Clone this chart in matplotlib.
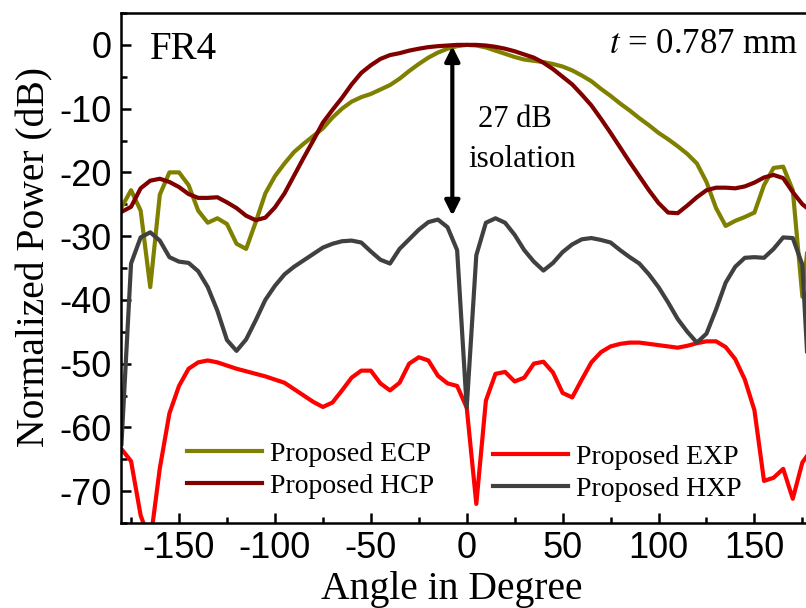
import numpy as np
import matplotlib
matplotlib.use("Agg")
import matplotlib.pyplot as plt
from matplotlib.ticker import MultipleLocator

plt.rcParams['axes.unicode_minus'] = False
plt.rcParams['mathtext.fontset'] = 'stix'

angles = list(range(-180, 181, 5))

ecp = [-25.5, -22.8, -26.0, -38.0, -23.5, -20.0, -20.0, -22.0, -26.0, -27.9,
       -27.2, -28.1, -31.2, -32.0, -27.8, -23.3, -20.6, -18.6, -16.8, -15.5,
       -14.3, -13.1, -11.4, -10.0, -8.9, -8.2, -7.7, -7.0, -6.3, -5.3,
       -4.1, -3.0, -2.0, -1.2, -0.6, -0.2, 0.0, -0.1, -0.4, -0.9,
       -1.4, -1.9, -2.3, -2.5, -2.7, -3.0, -3.4, -4.0, -4.8, -5.7,
       -6.9, -8.0, -9.2, -10.3, -11.5, -12.6, -13.8, -14.8, -15.9, -17.1,
       -18.6, -21.5, -25.6, -28.4, -27.6, -27.0, -26.3, -22.0, -19.3, -19.1,
       -22.8, -39.5, -25.5]

hcp = [-26.2, -25.4, -22.5, -21.3, -21.0, -21.5, -22.3, -23.4, -24.0, -24.0,
       -23.9, -24.7, -25.6, -26.8, -27.5, -27.1, -25.5, -23.3, -20.5, -17.7,
       -15.0, -12.2, -10.2, -8.3, -6.2, -4.4, -3.2, -2.2, -1.6, -1.3,
       -0.9, -0.6, -0.35, -0.2, -0.1, 0.0, 0.0, 0.0, -0.1, -0.3,
       -0.6, -1.0, -1.5, -2.0, -2.8, -3.8, -5.0, -6.2, -7.8, -9.5,
       -11.6, -13.8, -16.1, -18.4, -20.6, -22.8, -24.8, -26.3, -26.4, -25.2,
       -23.9, -22.8, -22.4, -22.4, -22.5, -22.2, -21.6, -20.8, -20.4, -20.9,
       -23.1, -25.0, -26.2]

exp_ = [-63.4, -65.3, -73.8, -78.0, -66.4, -57.8, -53.5, -50.8, -49.8, -49.5,
        -49.8, -50.3, -50.8, -51.2, -51.6, -52.0, -52.5, -53.0, -54.0, -55.0,
        -56.0, -56.8, -56.1, -54.2, -52.2, -51.1, -51.1, -53.1, -54.2, -53.0,
        -50.0, -49.0, -49.5, -51.9, -53.1, -53.5, -56.9, -72.0, -55.8, -51.6,
        -51.3, -52.8, -52.2, -50.0, -49.7, -51.4, -54.6, -55.3, -52.5, -49.8,
        -48.2, -47.3, -46.9, -46.7, -46.7, -46.9, -47.1, -47.3, -47.5, -47.2,
        -46.8, -46.5, -46.5, -47.4, -49.3, -52.5, -57.3, -68.4, -67.9, -66.5,
        -71.2, -65.5, -63.4]

hxp = [-62.6, -34.3, -30.2, -29.4, -30.7, -33.3, -34.0, -34.2, -35.5, -38.0,
       -41.7, -46.3, -48.0, -46.2, -43.2, -40.0, -37.8, -36.0, -34.8, -33.8,
       -32.8, -31.8, -31.2, -30.8, -30.7, -31.0, -32.4, -33.7, -34.3, -32.0,
       -30.5, -29.0, -27.8, -27.4, -28.6, -32.2, -56.9, -33.0, -27.9, -27.2,
       -27.9, -29.8, -32.2, -34.0, -35.4, -34.2, -32.5, -31.3, -30.5, -30.3,
       -30.6, -31.0, -32.2, -33.3, -34.3, -36.0, -38.0, -40.4, -43.0, -45.0,
       -46.7, -45.3, -41.5, -37.3, -34.8, -33.4, -33.3, -33.4, -32.0, -30.2,
       -30.3, -34.5, -62.6]

labels = ["Proposed ECP", "Proposed HCP", "Proposed EXP", "Proposed HXP"]
colors = ["#808000", "#800000", "#ff0000", "#404040"]

serif = "Liberation Serif"
sans = "Liberation Sans"

fig = plt.figure(figsize=(8.06, 6.08), dpi=100)
ax = fig.add_axes([0.1507, 0.1398, 0.8567, 0.8388])

lw = 3.0
l1, = ax.plot(angles, ecp, color=colors[0], lw=lw, label=labels[0])
l2, = ax.plot(angles, hcp, color=colors[1], lw=lw, label=labels[1])
l3, = ax.plot(angles, exp_, color=colors[2], lw=lw, label=labels[2])
l4, = ax.plot(angles, hxp, color=colors[3], lw=lw, label=labels[3])

ax.set_xlim(-180, 180)
ax.set_ylim(-75, 5)
ax.xaxis.set_major_locator(MultipleLocator(50))
ax.xaxis.set_minor_locator(MultipleLocator(25))
ax.yaxis.set_major_locator(MultipleLocator(10))
ax.yaxis.set_minor_locator(MultipleLocator(5))
ax.set_yticks([0, -10, -20, -30, -40, -50, -60, -70])
ax.tick_params(which='major', direction='in', length=7, width=1.8,
               labelsize=26, pad=7)
ax.tick_params(axis='x', which='major', pad=6)
ax.tick_params(which='minor', direction='in', length=4, width=1.8)
for lab in ax.get_xticklabels() + ax.get_yticklabels():
    lab.set_fontfamily(sans)
for s in ax.spines.values():
    s.set_linewidth(1.8)

ax.set_xlabel("Angle in Degree", fontfamily=serif, fontsize=28.5)
ax.set_ylabel("Normalized Power (dB)", fontfamily=serif, fontsize=28.5)
ax.xaxis.set_label_coords(0.4786, -0.094)
ax.yaxis.set_label_coords(-0.099, 0.5216)

ax.text(-165.3, -2.2, "FR4", fontfamily=serif, fontsize=28, va='baseline', ha='left')
ax.text(172.6, -1.3, r"$t$ = 0.787 mm", fontfamily=serif, fontsize=25,
        va='baseline', ha='right')
ax.text(25, -12.9, "27 dB", fontfamily=serif, fontsize=22, va='baseline', ha='center')
ax.text(29, -19.2, "isolation", fontfamily=serif, fontsize=22.5, va='baseline', ha='center')

ax.annotate("", xy=(-7.5, -26.8), xytext=(-7.5, -0.2),
            arrowprops=dict(arrowstyle='<|-|>', color='black', lw=3,
                            mutation_scale=22, shrinkA=0, shrinkB=0))

leg1 = ax.legend(handles=[l1, l2], loc='center left',
                 bbox_to_anchor=(0.232, 0.227), bbox_transform=fig.transFigure,
                 frameon=False, prop={'family': serif, 'size': 20},
                 handlelength=2.7, handletextpad=0.3, labelspacing=0.25,
                 borderpad=0, borderaxespad=0)
ax.add_artist(leg1)
ax.legend(handles=[l3, l4], loc='center left',
          bbox_to_anchor=(0.6117, 0.222), bbox_transform=fig.transFigure,
          frameon=False, prop={'family': serif, 'size': 20},
          handlelength=2.7, handletextpad=0.3, labelspacing=0.25,
          borderpad=0, borderaxespad=0)

fig.savefig("out.png", dpi=100)
